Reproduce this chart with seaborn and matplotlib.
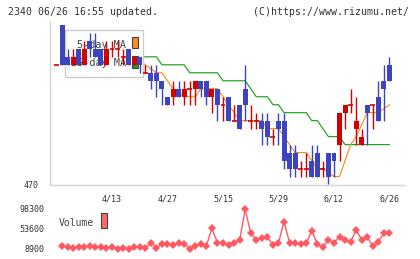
import numpy as np
import pandas as pd
import seaborn as sns
import matplotlib
matplotlib.use("Agg")
import matplotlib.pyplot as plt
from matplotlib.patches import Rectangle

sns.set_style("white")
plt.rcParams['font.family'] = ['DejaVu Sans Mono']

# daily candles, red = up, blue = down
opens  = [485, 490, 486, 485, 487, 485, 488, 487, 487, 485, 487, 487, 486, 487, 485, 486,
          484, 484, 484, 483, 481, 481, 482, 481, 482, 482, 483, 483, 481, 482, 480, 481,
          478, 480, 482, 478, 478, 478, 478, 476, 478, 478, 474, 474, 472, 472, 473, 474,
          472, 474, 474, 475, 479, 480, 477, 475, 480, 480, 481, 483, 485]
highs  = [485, 490, 487, 487, 487, 488, 489, 489, 487, 488, 488, 488, 487, 487, 486, 486,
          485, 485, 485, 483, 481, 483, 483, 483, 483, 483, 483, 483, 482, 482, 481, 481,
          480, 480, 485, 480, 479, 479, 479, 477, 479, 479, 475, 475, 473, 474, 475, 475,
          473, 474, 474, 479, 480, 482, 481, 477, 480, 480, 483, 485, 486]
lows   = [485, 485, 485, 485, 485, 485, 486, 486, 485, 485, 486, 486, 485, 485, 485, 484,
          484, 482, 481, 480, 480, 480, 481, 480, 480, 480, 481, 480, 479, 478, 478, 478,
          478, 477, 478, 477, 477, 475, 475, 475, 475, 472, 471, 471, 471, 471, 471, 471,
          471, 470, 471, 473, 477, 479, 475, 475, 475, 477, 478, 478, 483]
closes = [485, 485, 485, 486, 485, 487, 487, 486, 485, 487, 487, 487, 486, 485, 486, 485,
          484, 483, 483, 482, 480, 482, 481, 482, 482, 483, 482, 481, 482, 480, 480, 478,
          478, 477, 480, 478, 478, 477, 476, 476, 477, 473, 472, 472, 472, 472, 471, 471,
          472, 471, 473, 479, 480, 480, 478, 476, 479, 480, 478, 482, 483]

ma5  = [np.nan, 487.5, 487, 486.5, 486.5, 486, 486, 486, 486, 486, 486, 486, 486, 486, 486, 485.5,
        485, 484.5, 484, 484, 483, 482, 481.5, 481, 481, 481, 482, 482, 482, 482, 481, 480,
        479, 478, 478, 478, 478, 478, 477, 477, 477, 476, 475, 474, 474, 474, 473, 472,
        472, 471.5, 471, 471, 473, 475, 476, 477.5, 479, 479, 479, 479.5, 480]
ma25 = [np.nan, 487.5, 487, 487, 487, 487, 487, 487, 486.5, 486.5, 486.5, 486.5, 486, 486, 486, 486,
        486, 486, 486, 485, 485, 485, 485, 485, 484, 484, 484, 484, 484, 484, 483, 483,
        483, 483, 483, 482, 481, 481, 481, 480, 480, 479, 479, 479, 479, 479, 478, 478,
        477, 476, 476, 476, 475, 475, 475, 475, 475, 475, 475, 475, 475]

volume = [np.nan, 15600, 14000, 11100, 12700, 14000, 15600, 14000, 14000, 11100, 12700, 9600,
          11100, 8200, 12700, 12700, 11100, 23000, 11100, 20100, 20100, 18500, 21600, 20100,
          9600, 15600, 20100, 15600, 55200, 23000, 21600, 17800, 23000, 29000, 97600, 44000,
          29000, 32800, 35000, 17800, 23000, 69900, 23000, 23000, 20100, 21600, 49800, 20100,
          12700, 29000, 23000, 36400, 29000, 25200, 51400, 29000, 35000, 15600, 25200, 45300,
          44000]

date_labels = ["4/13", "4/27", "5/15", "5/29", "6/12", "6/26"]
label_pos = [10, 20, 30, 40, 50, 60]
vol_ticks = [8900, 53600, 98300]

df = pd.DataFrame({"day": np.arange(len(opens)), "open": opens, "high": highs,
                   "low": lows, "close": closes, "ma5": ma5, "ma25": ma25, "volume": volume})

W, H = 420, 259
fig = plt.figure(figsize=(W / 100, H / 100), dpi=100)


def fx(px):
    return px / W


def fy(py):
    return 1 - py / H


BLUE = "#3c44c0"
RED = "#d40000"
ORANGE = "#f39020"
GREEN = "#1aa31a"
VOLC = "#ff5a62"
AXC = "#d4d4d4"
TXT = "#333333"

xlim = ((50 - 56.5) / 5.55, (405 - 56.5) / 5.55)

# ---- price panel
ax = fig.add_axes([fx(50), fy(184.5), fx(405) - fx(50), fy(21) - fy(184.5)])
ax.set_xlim(*xlim)
ax.set_ylim(470, 470 + 163.5 / 7.98)

sns.lineplot(data=df, x="day", y="ma25", color=GREEN, lw=0.85, ax=ax, zorder=2, legend=False)
sns.lineplot(data=df, x="day", y="ma5", color=ORANGE, lw=0.85, ax=ax, zorder=2, legend=False)

up = df["close"] >= df["open"]
colors = np.where(up, RED, BLUE)
ax.vlines(df["day"], df["low"], df["high"], colors=colors, lw=1.0, zorder=3)
body_lo = np.minimum(df["open"], df["close"])
body_h = (df["open"] - df["close"]).abs()
ax.bar(df["day"], body_h, bottom=body_lo, width=0.9, color=colors, lw=0, zorder=3.1,
       antialiased=False)
doji = body_h == 0
ax.hlines(df.loc[doji, "open"], df.loc[doji, "day"] - 0.45, df.loc[doji, "day"] + 0.45,
          colors=colors[doji.values], lw=1.2, zorder=3.1)

# legend box (sits between MA lines and candles)
ax.add_patch(Rectangle((fx(65), fy(77)), fx(143) - fx(65), fy(30) - fy(77),
                       transform=fig.transFigure, facecolor="white", edgecolor="#cccccc",
                       lw=1, zorder=2.5, clip_on=False))
ax.text(fx(126), fy(45.5), "5-day MA", transform=fig.transFigure, ha="right", va="center",
        fontsize=7.3, color="#444444", zorder=2.6)
ax.text(fx(126), fy(62.5), "25-day MA", transform=fig.transFigure, ha="right", va="center",
        fontsize=7.3, color="#444444", zorder=2.6)
ax.add_patch(Rectangle((fx(131.5), fy(48)), fx(6), fy(0) - fy(11), transform=fig.transFigure,
                       facecolor=ORANGE, edgecolor="#444444", lw=0.8, zorder=2.6, clip_on=False))
ax.add_patch(Rectangle((fx(131.5), fy(68)), fx(6), fy(0) - fy(12), transform=fig.transFigure,
                       facecolor=GREEN, edgecolor="#444444", lw=0.8, zorder=2.6, clip_on=False))

for s in ["top", "right"]:
    ax.spines[s].set_visible(False)
for s in ["left", "bottom"]:
    ax.spines[s].set_color(AXC)
    ax.spines[s].set_linewidth(1)

ax.set_yticks([470])
ax.set_yticklabels(["470"])
ax.tick_params(axis="y", length=3.6, width=1, color=AXC, pad=4.3, labelsize=6, labelcolor=TXT)
ax.set_xticks(label_pos)
ax.set_xticklabels(date_labels)
ax.set_xticks(np.linspace(xlim[0], xlim[1], 12), minor=True)
ax.tick_params(axis="x", which="major", length=0, pad=7, labelsize=6, labelcolor=TXT)
ax.tick_params(axis="x", which="minor", length=6, width=1, color=AXC, direction="inout")
ax.set_xlabel("")
ax.set_ylabel("")

# ---- volume panel
vax = fig.add_axes([fx(50), fy(253), fx(405) - fx(50), fy(204) - fy(253)])
vax.set_xlim(*xlim)
vax.set_ylim(8900 - 4 * 2235, 8900 + 45 * 2235)
sns.lineplot(data=df, x="day", y="volume", color=VOLC, lw=1, marker="D", markersize=4,
             markeredgewidth=0, ax=vax, legend=False)
for s in vax.spines.values():
    s.set_visible(False)
vax.set_xticks([])
vax.set_yticks(vol_ticks)
vax.set_yticklabels([str(v) for v in vol_ticks])
vax.tick_params(axis="y", length=0, pad=4.3, labelsize=6, labelcolor=TXT)
vax.set_xlabel("")
vax.set_ylabel("")

fig.text(fx(59), fy(222.5), "Volume", ha="left", va="center", fontsize=7, color="#444444")
fig.add_artist(Rectangle((fx(101), fy(228)), fx(6), fy(0) - fy(15), transform=fig.transFigure,
                         facecolor="#ff6666", edgecolor="#444444", lw=0.8))

# ---- header
fig.text(fx(8), fy(12), "2340 06/26 16:55 updated.", ha="left", va="center",
         fontsize=7.1, color=TXT)
fig.text(fx(409), fy(12), "(C)https://www.rizumu.net/", ha="right", va="center",
         fontsize=7.1, color=TXT)

fig.savefig("out.png", dpi=100)
